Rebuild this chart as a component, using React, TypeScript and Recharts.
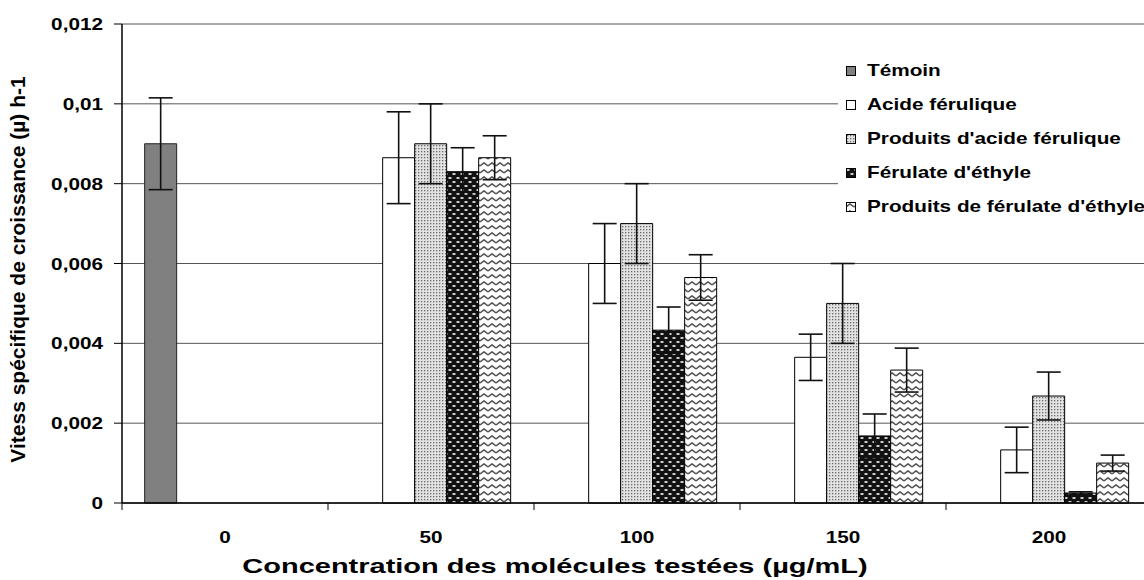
import React from "react";
import { BarChart, Bar, XAxis, YAxis, CartesianGrid, ErrorBar, Label } from "recharts";

const categories = ["0", "50", "100", "150", "200"];
const temoin = [0.009, 0, 0, 0, 0];
const temoinErr = [0.00115, 0, 0, 0, 0];
const acide = [0, 0.00865, 0.006, 0.00365, 0.00133];
const acideErr = [0, 0.00115, 0.001, 0.00058, 0.00057];
const prodAcide = [0, 0.009, 0.007, 0.005, 0.00268];
const prodAcideErr = [0, 0.001, 0.001, 0.001, 0.0006];
const ferulate = [0, 0.0083, 0.00433, 0.00168, 0.00025];
const ferulateErr = [0, 0.0006, 0.00058, 0.00055, 0.00003];
const prodFerulate = [0, 0.00865, 0.00565, 0.00333, 0.001];
const prodFerulateErr = [0, 0.00055, 0.00057, 0.00055, 0.0002];
const yTicks = [0, 0.002, 0.004, 0.006, 0.008, 0.01, 0.012];

const seriesNames = [
  "Témoin",
  "Acide férulique",
  "Produits d'acide férulique",
  "Férulate d'éthyle",
  "Produits de férulate d'éthyle",
];
const seriesFills = ["#808080", "#ffffff", "url(#patDots)", "url(#patDark)", "url(#patWave)"];

const xTitle = "Concentration des molécules testées (µg/mL)";
const yTitle = "Vitess spécifique de croissance (µ) h-1";

const data = categories.map((c, i) => ({
  cat: c,
  temoin: temoin[i],
  temoinErr: temoinErr[i],
  acide: acide[i],
  acideErr: acideErr[i],
  prodAcide: prodAcide[i],
  prodAcideErr: prodAcideErr[i],
  ferulate: ferulate[i],
  ferulateErr: ferulateErr[i],
  prodFerulate: prodFerulate[i],
  prodFerulateErr: prodFerulateErr[i],
}));

const FONT = "'Liberation Sans', Arial, sans-serif";
const SX = 1.22;

const XTick = (props: any) => {
  const { x, y, payload } = props;
  const half = payload && payload.offset ? payload.offset : 103;
  return (
    <g>
      <line x1={x - half} x2={x - half} y1={y} y2={y + 7} stroke="#000" strokeWidth={1} />
      <text
        x={0}
        y={0}
        textAnchor="middle"
        transform={`translate(${x},${y + 40}) scale(${SX},1)`}
        fontFamily={FONT}
        fontWeight="bold"
        fontSize={17}
        fill="#000"
      >
        {payload.value}
      </text>
    </g>
  );
};

const YTick = (props: any) => {
  const { x, y, payload } = props;
  return (
    <text
      x={0}
      y={0}
      dy="0.36em"
      textAnchor="end"
      transform={`translate(${x},${y}) scale(${SX},1)`}
      fontFamily={FONT}
      fontWeight="bold"
      fontSize={17}
      fill="#000"
    >
      {String(payload.value).replace(".", ",")}
    </text>
  );
};

const XTitle = (props: any) => {
  const vb = props.viewBox || { x: 122, y: 503, width: 1030, height: 77 };
  const cx = vb.x + vb.width / 2 - 82;
  return (
    <text
      x={0}
      y={0}
      textAnchor="middle"
      transform={`translate(${cx},${vb.y + 70}) scale(1.45,1)`}
      fontFamily={FONT}
      fontWeight="bold"
      fontSize={20}
      fill="#000"
    >
      {xTitle}
    </text>
  );
};

const YTitle = (props: any) => {
  const vb = props.viewBox || { x: 0, y: 24, width: 122, height: 479 };
  const cy = vb.y + vb.height / 2 + 6;
  return (
    <text
      x={0}
      y={0}
      textAnchor="middle"
      transform={`translate(${25},${cy}) rotate(-90)`}
      fontFamily={FONT}
      fontWeight="bold"
      fontSize={21}
      fill="#000"
    >
      {yTitle}
    </text>
  );
};

const LegendBox = () => (
  <div
    style={{
      position: "absolute",
      left: 838,
      top: 50,
      width: 320,
      height: 174,
      background: "#fff",
      fontFamily: FONT,
      fontWeight: "bold",
      fontSize: 17,
      color: "#000",
      paddingTop: 4,
      boxSizing: "border-box",
    }}
  >
    {seriesNames.map((n, i) => (
      <div key={n} style={{ display: "flex", alignItems: "center", height: 34, whiteSpace: "nowrap" }}>
        <svg width={10} height={10} style={{ marginLeft: 8, marginRight: 11, flex: "none" }}>
          <rect x={0.5} y={0.5} width={9} height={9} fill={seriesFills[i]} stroke="#000" strokeWidth={1} />
        </svg>
        <span style={{ display: "inline-block", transform: `scaleX(${SX})`, transformOrigin: "left center" }}>{n}</span>
      </div>
    ))}
  </div>
);

export default function App() {
  return (
    <div style={{ position: "absolute", left: 0, top: 0, width: 1144, height: 580, overflow: "hidden", background: "#fff" }}>
      <BarChart
        width={1160}
        height={580}
        data={data}
        margin={{ top: 24, right: 8, left: 0, bottom: 0 }}
        barCategoryGap="11%"
        barGap={0}
      >
        <defs>
          <pattern id="patDots" width="3" height="3" patternUnits="userSpaceOnUse">
            <rect width="3" height="3" fill="#e2e2e2" />
            <rect x="1" y="1" width="1.3" height="1.3" fill="#6a6a6a" />
          </pattern>
          <pattern id="patDark" width="8" height="8" patternUnits="userSpaceOnUse">
            <rect width="8" height="8" fill="#111" />
            <ellipse cx="2" cy="2" rx="1.8" ry="0.9" fill="#ddd" />
            <ellipse cx="6" cy="6" rx="1.8" ry="0.9" fill="#ddd" />
          </pattern>
          <pattern id="patWave" width="8" height="7" patternUnits="userSpaceOnUse">
            <rect width="8" height="7" fill="#fff" />
            <path d="M0,5 L4,1.8 L8,5" fill="none" stroke="#555" strokeWidth={1.6} strokeLinejoin="round" />
          </pattern>
        </defs>
        <CartesianGrid horizontal vertical={false} stroke="#555" strokeWidth={1} />
        <XAxis
          dataKey="cat"
          height={77}
          axisLine={{ stroke: "#000", strokeWidth: 1.5 }}
          tickLine={false}
          tickSize={0}
          tickMargin={0}
          tick={<XTick />}
          interval={0}
        >
          <Label content={<XTitle />} />
        </XAxis>
        <YAxis
          width={122}
          domain={[0, 0.012]}
          ticks={yTicks}
          interval={0}
          axisLine={{ stroke: "#000", strokeWidth: 1.5 }}
          tickLine={{ stroke: "#000" }}
          tickSize={8}
          tickMargin={11}
          tick={<YTick />}
        >
          <Label content={<YTitle />} />
        </YAxis>
        <Bar dataKey="temoin" fill={seriesFills[0]} stroke="#222" strokeWidth={1} isAnimationActive={false}>
          <ErrorBar dataKey="temoinErr" width={12} stroke="#111" strokeWidth={1.6} />
        </Bar>
        <Bar dataKey="acide" fill={seriesFills[1]} stroke="#000" strokeWidth={1} isAnimationActive={false}>
          <ErrorBar dataKey="acideErr" width={12} stroke="#111" strokeWidth={1.6} />
        </Bar>
        <Bar dataKey="prodAcide" fill={seriesFills[2]} stroke="#000" strokeWidth={1} isAnimationActive={false}>
          <ErrorBar dataKey="prodAcideErr" width={12} stroke="#111" strokeWidth={1.6} />
        </Bar>
        <Bar dataKey="ferulate" fill={seriesFills[3]} stroke="#000" strokeWidth={1} isAnimationActive={false}>
          <ErrorBar dataKey="ferulateErr" width={12} stroke="#111" strokeWidth={1.6} />
        </Bar>
        <Bar dataKey="prodFerulate" fill={seriesFills[4]} stroke="#000" strokeWidth={1} isAnimationActive={false}>
          <ErrorBar dataKey="prodFerulateErr" width={12} stroke="#111" strokeWidth={1.6} />
        </Bar>
      </BarChart>
      <LegendBox />
    </div>
  );
}
